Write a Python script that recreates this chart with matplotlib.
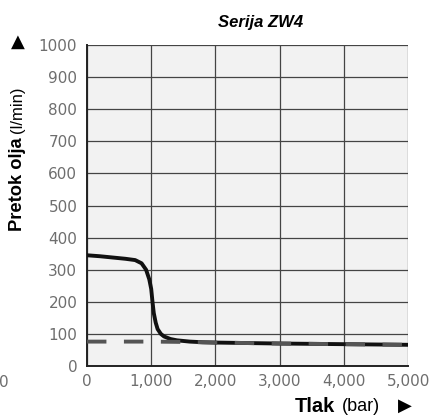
#!/usr/bin/env python3
"""Serija ZW4: oil flow vs pressure."""
import matplotlib.pyplot as plt
from matplotlib.ticker import FuncFormatter

# solid curve
pressure = [0, 200, 400, 600, 750, 850, 920, 970, 1000, 1020, 1040, 1070,
            1100, 1150, 1200, 1300, 1400, 1600, 1800, 2000, 3000, 4000, 5000]
flow = [345, 342, 338, 334, 330, 320, 300, 270, 240, 200, 165, 135,
        115, 100, 92, 84, 80, 76, 74, 73, 70, 68, 66]

# dashed curve
pressure_d = [0, 1000, 1500, 2000, 3000, 4000, 5000]
flow_d = [76, 76, 75, 73, 70, 68, 66]

xticks = [0, 1000, 2000, 3000, 4000, 5000]
yticks = list(range(0, 1001, 100))

LAB = "Liberation Sans"


def main():
    fig = plt.figure(figsize=(4.36, 4.19), dpi=100)
    ax = fig.add_axes([0.1995, 0.1265, 0.7365, 0.766])
    ax.set_facecolor("#f2f2f2")

    ax.plot(pressure, flow, color="#111111", lw=2.8, zorder=3)
    ax.plot(pressure_d, flow_d, color="#555555", lw=2.8, ls=(0, (5, 4.5)), zorder=4)

    ax.set_xlim(0, 5000)
    ax.set_ylim(0, 1000)
    ax.set_xticks(xticks)
    ax.set_yticks(yticks)
    ax.xaxis.set_major_formatter(FuncFormatter(lambda v, p: f"{int(v):,}"))
    ax.grid(True, color="#444444", lw=0.9)
    ax.set_axisbelow(True)
    for s in ("top", "right"):
        ax.spines[s].set_visible(False)
    for s in ("left", "bottom"):
        ax.spines[s].set_color("#222222")
        ax.spines[s].set_linewidth(1.4)
    ax.tick_params(length=0, labelsize=11, labelcolor="#6e6e6e")
    ax.tick_params(axis="y", pad=7)
    ax.tick_params(axis="x", pad=6)

    fig.text(0.597, 0.947, "Serija ZW4", fontsize=12, fontweight="bold",
             style="italic", family=LAB, ha="center", va="center")

    # y label pieces, stacked bottom to top
    fig.text(0.041, 0.449, "Pretok olja", rotation=90, fontsize=13.2,
             fontweight="bold", family=LAB, ha="center", va="bottom")
    fig.text(0.041, 0.683, "(l/min)", rotation=90, fontsize=12,
             family=LAB, ha="center", va="bottom")
    fig.text(0.041, 0.9, "\u25b2", fontsize=13, ha="center", va="center")

    # x label pieces
    fig.text(0.768, 0.031, "Tlak", fontsize=14.5, fontweight="bold",
             family=LAB, ha="right", va="center")
    fig.text(0.784, 0.031, "(bar)", fontsize=13, family=LAB,
             ha="left", va="center")
    fig.text(0.929, 0.031, "\u25b6", fontsize=13, ha="center", va="center")

    fig.text(0.008, 0.086, "0", fontsize=11, color="#6e6e6e", ha="center", va="center")

    fig.savefig("out.png", dpi=100)


if __name__ == "__main__":
    main()
